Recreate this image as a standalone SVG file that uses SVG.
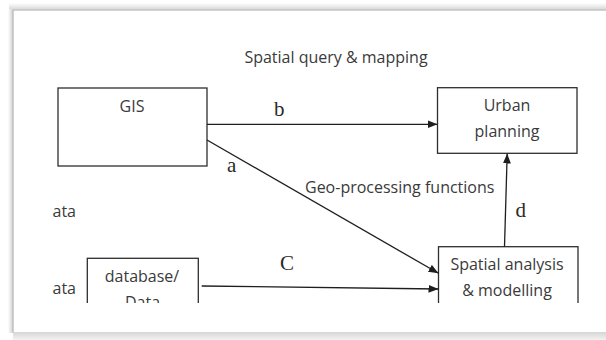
<svg xmlns="http://www.w3.org/2000/svg" width="606" height="340" viewBox="0 0 606 340">
  <defs>
    <style>
      .box { fill: #ffffff; stroke: #2e2e2e; stroke-width: 1.3; }
      .open { fill: none; stroke: #2e2e2e; stroke-width: 1.3; }
      .sans { font-family: "Open Sans", "Liberation Sans", sans-serif; font-size: 16px; fill: #3a3a3a; }
      .serif { font-family: "Liberation Serif", "Times New Roman", serif; font-size: 21px; fill: #2a2a2a; }
      .conn { fill: none; stroke: #1e1e1e; stroke-width: 1.3; }
    </style>
    <marker id="arrow" markerUnits="userSpaceOnUse" markerWidth="11" markerHeight="9" refX="10" refY="4" orient="auto">
      <path d="M0,0 L10,4 L0,8 Z" fill="#1e1e1e"/>
    </marker>
    <linearGradient id="gTop" x1="0" y1="0" x2="0" y2="1">
      <stop offset="0" stop-color="#ffffff"/>
      <stop offset="1" stop-color="#d4d4d4"/>
    </linearGradient>
    <linearGradient id="gLeft" x1="0" y1="0" x2="1" y2="0">
      <stop offset="0" stop-color="#ffffff"/>
      <stop offset="1" stop-color="#cfcfcf"/>
    </linearGradient>
    <linearGradient id="gBottom" x1="0" y1="0" x2="0" y2="1">
      <stop offset="0" stop-color="#d6d6d6"/>
      <stop offset="1" stop-color="#f2f2f2"/>
    </linearGradient>
    <clipPath id="cut">
      <rect x="0" y="0" width="606" height="303"/>
    </clipPath>
  </defs>

  <!-- page frame -->
  <rect x="0" y="0" width="606" height="340" fill="#ffffff"/>
  <rect x="9" y="3" width="597" height="7" fill="url(#gTop)"/>
  <rect x="8" y="9" width="5" height="324" fill="url(#gLeft)"/>
  <rect x="13" y="332" width="593" height="8" fill="url(#gBottom)"/>
  <line x1="13" y1="10" x2="606" y2="10" stroke="#c4c4c4" stroke-width="1.5"/>
  <line x1="13" y1="10" x2="13" y2="332" stroke="#c0c0c0" stroke-width="1.5"/>

  <text class="sans" x="336" y="63" text-anchor="middle">Spatial query &amp; mapping</text>
  <text class="sans" x="52.5" y="216.7">ata</text>
  <text class="sans" x="52.5" y="294">ata</text>

  <g id="gis">
    <rect class="box" x="58" y="88" width="149" height="78"/>
    <text class="sans" x="132" y="111.5" text-anchor="middle">GIS</text>
  </g>

  <g id="urban-planning">
    <rect class="box" x="437.5" y="87.7" width="139.5" height="65.6"/>
    <text class="sans" x="507" y="111" text-anchor="middle">Urban</text>
    <text class="sans" x="507" y="137.3" text-anchor="middle">planning</text>
  </g>

  <g id="database" clip-path="url(#cut)">
    <rect class="box" x="87.3" y="258.3" width="111" height="60"/>
    <text class="sans" x="142" y="282" text-anchor="middle">database/</text>
    <text class="sans" x="142.5" y="308" text-anchor="middle">Data</text>
  </g>

  <g id="spatial-analysis" clip-path="url(#cut)">
    <rect class="box" x="438.5" y="246.7" width="139.5" height="70"/>
    <text class="sans" x="507" y="270" text-anchor="middle">Spatial analysis</text>
    <text class="sans" x="507" y="296" text-anchor="middle">&amp; modelling</text>
  </g>

  <g id="connectors">
    <line class="conn" x1="207" y1="124.3" x2="437.5" y2="124.3" marker-end="url(#arrow)"/>
    <text class="serif" x="274" y="116">b</text>
    <line class="conn" x1="207" y1="140" x2="438.5" y2="273.3" marker-end="url(#arrow)"/>
    <text class="serif" x="227" y="171.5">a</text>
    <text class="sans" x="305" y="193">Geo-processing functions</text>
    <line class="conn" x1="201.7" y1="286" x2="438.5" y2="289" marker-end="url(#arrow)"/>
    <text class="serif" x="280" y="270">C</text>
    <line class="conn" x1="504.5" y1="246.7" x2="507.2" y2="153.5" marker-end="url(#arrow)"/>
    <text class="serif" x="515.5" y="216.7">d</text>
  </g>
</svg>
